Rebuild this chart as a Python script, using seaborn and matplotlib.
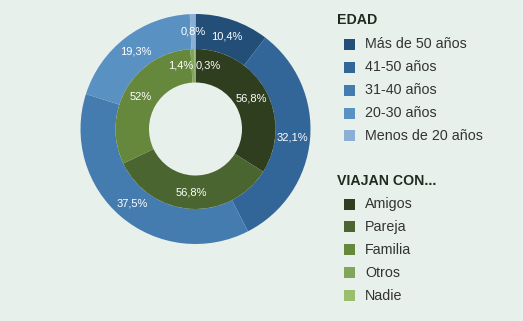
import matplotlib
matplotlib.use("Agg")
import matplotlib.pyplot as plt
import seaborn as sns
import numpy as np
from matplotlib.patches import Rectangle

sns.set_theme(style="white")
plt.rcParams['font.family'] = ['Liberation Sans', 'DejaVu Sans']

# Data
edad_labels = ["Más de 50 años", "41-50 años", "31-40 años", "20-30 años", "Menos de 20 años"]
edad_values = [10.4, 32.1, 37.5, 19.3, 0.8]
edad_colors = ["#224e78", "#336698", "#457cb0", "#5a91c3", "#8ab0d5"]

viajan_labels = ["Amigos", "Pareja", "Familia", "Otros", "Nadie"]
viajan_values = [56.8, 56.8, 52, 1.4, 0.3]
viajan_colors = ["#303e20", "#4a6530", "#66883d", "#80a55b", "#9bbe6d"]

bg = "#e8f0ec"

W, H = 523, 321
fig = plt.figure(figsize=(W / 100, H / 100), dpi=100, facecolor=bg)
cx, cy, R = 195.5, 129, 115
ax = fig.add_axes([(cx - R) / W, (H - cy - R) / H, 2 * R / W, 2 * R / H])
ax.set_facecolor(bg)

r_out = 1.0
r_mid = 80 / 115
r_in = 46.5 / 115

def fmt(v):
    return f"{v:g}".replace('.', ',') + '%'

w_out, _ = ax.pie(edad_values, radius=r_out, colors=edad_colors, startangle=90,
                  counterclock=False, wedgeprops=dict(width=r_out - r_mid, linewidth=0))
w_in, _ = ax.pie(viajan_values, radius=r_mid, colors=viajan_colors, startangle=90,
                 counterclock=False, wedgeprops=dict(width=r_mid - r_in, linewidth=0))

ax.set_xlim(-1, 1)
ax.set_ylim(-1, 1)
ax.set_aspect('equal')
ax.axis('off')

fs = 8.0
rl = (r_out + r_mid) / 2
for w, v in zip(w_out, edad_values):
    a = np.deg2rad((w.theta1 + w.theta2) / 2)
    ax.text(rl * np.cos(a), rl * np.sin(a), fmt(v), ha='center', va='center',
            color='white', fontsize=fs)

rl2 = (r_mid + r_in) / 2
for i, (w, v) in enumerate(zip(w_in, viajan_values)):
    a = np.deg2rad((w.theta1 + w.theta2) / 2)
    x, y = rl2 * np.cos(a), rl2 * np.sin(a)
    ha = 'center'
    if i == 3:
        ha = 'right'; x = -0.02
    elif i == 4:
        ha = 'left'; x = 0.0
    ax.text(x, y, fmt(v), ha=ha, va='center', color='white', fontsize=fs)

# Legends
def legend_block(title, y_title, labels, colors, y0, step=22.9):
    fig.text(337 / W, 1 - y_title / H, title, ha='left', va='center',
             fontsize=10.2, fontweight='bold', color='#1e2b1e')
    for k, (lab, col) in enumerate(zip(labels, colors)):
        yc = y0 + k * step
        fig.add_artist(Rectangle((343.5 / W, 1 - (yc + 5.5) / H), 11 / W, 11 / H,
                                 transform=fig.transFigure, facecolor=col,
                                 edgecolor='none'))
        fig.text(365 / W, 1 - yc / H, lab, ha='left', va='center',
                 fontsize=10.3, color='#333333')

legend_block("EDAD", 20, edad_labels, edad_colors, 44.3)
legend_block("VIAJAN CON...", 181, viajan_labels, viajan_colors, 204)

fig.savefig("out.png", dpi=100, facecolor=bg)
